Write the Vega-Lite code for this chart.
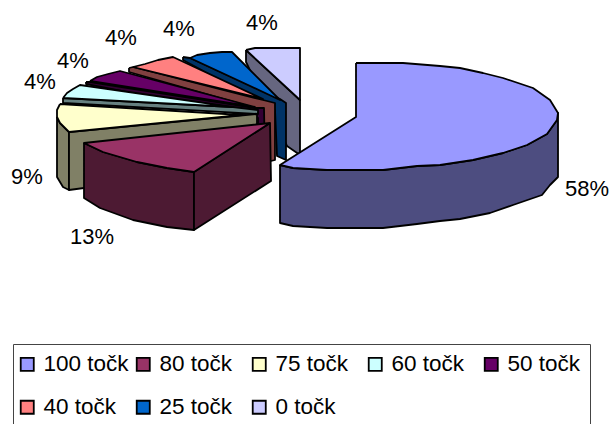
{
  "$schema": "https://vega.github.io/schema/vega-lite/v6.json",
  "width": 610, "height": 424, "padding": 0, "autosize": {"type": "none"},
  "background": "white",
  "config": {"view": {"stroke": null}, "font": "Liberation Sans"},
  "datasets": {
    "outline": [
      {"face":"0 točk side","p":"0s","x":246,"y":50},{"face":"0 točk side","p":"0s","x":300,"y":100},{"face":"0 točk side","p":"0s","x":300,"y":155},{"face":"0 točk side","p":"0s","x":287,"y":146},{"face":"0 točk side","p":"0s","x":246,"y":62},{"face":"0 točk side","p":"0s","x":246,"y":50},
      {"face":"0 točk","p":"0t","x":246,"y":50},{"face":"0 točk","p":"0t","x":255,"y":48},{"face":"0 točk","p":"0t","x":300,"y":48},{"face":"0 točk","p":"0t","x":300,"y":100},{"face":"0 točk","p":"0t","x":246,"y":50},

      {"face":"25 točk side","p":"25s","x":183,"y":57},{"face":"25 točk side","p":"25s","x":190,"y":58},{"face":"25 točk side","p":"25s","x":280,"y":99},{"face":"25 točk side","p":"25s","x":286,"y":103},{"face":"25 točk side","p":"25s","x":286,"y":160},{"face":"25 točk side","p":"25s","x":277,"y":156},{"face":"25 točk side","p":"25s","x":275,"y":110},{"face":"25 točk side","p":"25s","x":183,"y":60},{"face":"25 točk side","p":"25s","x":183,"y":57},
      {"face":"25 točk","p":"25t","x":190,"y":58},{"face":"25 točk","p":"25t","x":197,"y":55},{"face":"25 točk","p":"25t","x":210,"y":53},{"face":"25 točk","p":"25t","x":222,"y":52},{"face":"25 točk","p":"25t","x":232,"y":52},{"face":"25 točk","p":"25t","x":280,"y":100},{"face":"25 točk","p":"25t","x":190,"y":58},

      {"face":"40 točk side","p":"40s","x":129,"y":68},{"face":"40 točk side","p":"40s","x":133,"y":67},{"face":"40 točk side","p":"40s","x":263,"y":100},{"face":"40 točk side","p":"40s","x":275,"y":103},{"face":"40 točk side","p":"40s","x":275,"y":160},{"face":"40 točk side","p":"40s","x":267,"y":162},{"face":"40 točk side","p":"40s","x":262,"y":110},{"face":"40 točk side","p":"40s","x":129,"y":72},{"face":"40 točk side","p":"40s","x":129,"y":68},
      {"face":"40 točk","p":"40t","x":133,"y":67},{"face":"40 točk","p":"40t","x":145,"y":64},{"face":"40 točk","p":"40t","x":158,"y":60},{"face":"40 točk","p":"40t","x":173,"y":57},{"face":"40 točk","p":"40t","x":263,"y":99},{"face":"40 točk","p":"40t","x":133,"y":67},

      {"face":"50 točk side","p":"50s","x":86,"y":82},{"face":"50 točk side","p":"50s","x":90,"y":82},{"face":"50 točk side","p":"50s","x":255,"y":108},{"face":"50 točk side","p":"50s","x":264,"y":108},{"face":"50 točk side","p":"50s","x":265,"y":160},{"face":"50 točk side","p":"50s","x":258,"y":160},{"face":"50 točk side","p":"50s","x":258,"y":118},{"face":"50 točk side","p":"50s","x":86,"y":84},{"face":"50 točk side","p":"50s","x":86,"y":82},
      {"face":"50 točk","p":"50t","x":90,"y":81},{"face":"50 točk","p":"50t","x":97,"y":77},{"face":"50 točk","p":"50t","x":108,"y":74},{"face":"50 točk","p":"50t","x":120,"y":71},{"face":"50 točk","p":"50t","x":255,"y":107},{"face":"50 točk","p":"50t","x":90,"y":81},

      {"face":"60 točk side","p":"60s","x":63,"y":98},{"face":"60 točk side","p":"60s","x":233,"y":107},{"face":"60 točk side","p":"60s","x":258,"y":110},{"face":"60 točk side","p":"60s","x":258,"y":114},{"face":"60 točk side","p":"60s","x":63,"y":103},{"face":"60 točk side","p":"60s","x":63,"y":98},
      {"face":"60 točk","p":"60t","x":63,"y":98},{"face":"60 točk","p":"60t","x":67,"y":93},{"face":"60 točk","p":"60t","x":73,"y":89},{"face":"60 točk","p":"60t","x":80,"y":85},{"face":"60 točk","p":"60t","x":233,"y":107},{"face":"60 točk","p":"60t","x":63,"y":98},

      {"face":"75 točk side","p":"75o","x":57,"y":117},{"face":"75 točk side","p":"75o","x":60,"y":123},{"face":"75 točk side","p":"75o","x":69,"y":132},{"face":"75 točk side","p":"75o","x":69,"y":190},{"face":"75 točk side","p":"75o","x":63,"y":187},{"face":"75 točk side","p":"75o","x":57,"y":177},{"face":"75 točk side","p":"75o","x":57,"y":117},
      {"face":"75 točk side","p":"75f","x":69,"y":132},{"face":"75 točk side","p":"75f","x":257,"y":114},{"face":"75 točk side","p":"75f","x":257,"y":165},{"face":"75 točk side","p":"75f","x":69,"y":190},{"face":"75 točk side","p":"75f","x":69,"y":132},
      {"face":"75 točk","p":"75t","x":60,"y":104},{"face":"75 točk","p":"75t","x":57,"y":110},{"face":"75 točk","p":"75t","x":57,"y":117},{"face":"75 točk","p":"75t","x":60,"y":123},{"face":"75 točk","p":"75t","x":69,"y":132},{"face":"75 točk","p":"75t","x":242,"y":115},{"face":"75 točk","p":"75t","x":60,"y":104},

      {"face":"80 točk side","p":"80o","x":84,"y":143},{"face":"80 točk side","p":"80o","x":84,"y":198},{"face":"80 točk side","p":"80o","x":100,"y":208},{"face":"80 točk side","p":"80o","x":133,"y":220},{"face":"80 točk side","p":"80o","x":167,"y":227},{"face":"80 točk side","p":"80o","x":194,"y":230},{"face":"80 točk side","p":"80o","x":194,"y":172},{"face":"80 točk side","p":"80o","x":167,"y":168},{"face":"80 točk side","p":"80o","x":137,"y":162},{"face":"80 točk side","p":"80o","x":103,"y":152},{"face":"80 točk side","p":"80o","x":84,"y":143},
      {"face":"80 točk side","p":"80f","x":194,"y":172},{"face":"80 točk side","p":"80f","x":194,"y":230},{"face":"80 točk side","p":"80f","x":271,"y":181},{"face":"80 točk side","p":"80f","x":270,"y":123},{"face":"80 točk side","p":"80f","x":194,"y":172},
      {"face":"80 točk","p":"80t","x":270,"y":123},{"face":"80 točk","p":"80t","x":84,"y":143},{"face":"80 točk","p":"80t","x":103,"y":152},{"face":"80 točk","p":"80t","x":137,"y":162},{"face":"80 točk","p":"80t","x":167,"y":168},{"face":"80 točk","p":"80t","x":194,"y":172},{"face":"80 točk","p":"80t","x":270,"y":123},

      {"face":"100 točk side","p":"100s","x":280,"y":165},{"face":"100 točk side","p":"100s","x":293,"y":168},{"face":"100 točk side","p":"100s","x":327,"y":170},{"face":"100 točk side","p":"100s","x":383,"y":170},{"face":"100 točk side","p":"100s","x":417,"y":166},{"face":"100 točk side","p":"100s","x":440,"y":165},{"face":"100 točk side","p":"100s","x":473,"y":160},{"face":"100 točk side","p":"100s","x":503,"y":153},{"face":"100 točk side","p":"100s","x":527,"y":145},{"face":"100 točk side","p":"100s","x":547,"y":134},{"face":"100 točk side","p":"100s","x":557,"y":120},{"face":"100 točk side","p":"100s","x":558,"y":113},{"face":"100 točk side","p":"100s","x":558,"y":177},{"face":"100 točk side","p":"100s","x":550,"y":185},{"face":"100 točk side","p":"100s","x":542,"y":195},{"face":"100 točk side","p":"100s","x":513,"y":205},{"face":"100 točk side","p":"100s","x":490,"y":213},{"face":"100 točk side","p":"100s","x":460,"y":219},{"face":"100 točk side","p":"100s","x":440,"y":221},{"face":"100 točk side","p":"100s","x":417,"y":224},{"face":"100 točk side","p":"100s","x":383,"y":228},{"face":"100 točk side","p":"100s","x":327,"y":228},{"face":"100 točk side","p":"100s","x":293,"y":226},{"face":"100 točk side","p":"100s","x":280,"y":223},{"face":"100 točk side","p":"100s","x":280,"y":165},
      {"face":"100 točk","p":"100t","x":356,"y":63},{"face":"100 točk","p":"100t","x":356,"y":117},{"face":"100 točk","p":"100t","x":280,"y":165},{"face":"100 točk","p":"100t","x":293,"y":168},{"face":"100 točk","p":"100t","x":327,"y":170},{"face":"100 točk","p":"100t","x":383,"y":170},{"face":"100 točk","p":"100t","x":417,"y":166},{"face":"100 točk","p":"100t","x":440,"y":165},{"face":"100 točk","p":"100t","x":473,"y":160},{"face":"100 točk","p":"100t","x":503,"y":153},{"face":"100 točk","p":"100t","x":527,"y":145},{"face":"100 točk","p":"100t","x":547,"y":134},{"face":"100 točk","p":"100t","x":557,"y":120},{"face":"100 točk","p":"100t","x":558,"y":113},{"face":"100 točk","p":"100t","x":550,"y":100},{"face":"100 točk","p":"100t","x":533,"y":88},{"face":"100 točk","p":"100t","x":503,"y":78},{"face":"100 točk","p":"100t","x":483,"y":73},{"face":"100 točk","p":"100t","x":460,"y":68},{"face":"100 točk","p":"100t","x":440,"y":66},{"face":"100 točk","p":"100t","x":403,"y":63},{"face":"100 točk","p":"100t","x":356,"y":63}
    ],
    "shares": [
      {"slice":"100 točk","share":0.58,"x":587,"y":189},
      {"slice":"80 točk","share":0.13,"x":92,"y":237},
      {"slice":"75 točk","share":0.09,"x":27,"y":177},
      {"slice":"60 točk","share":0.04,"x":40,"y":82},
      {"slice":"50 točk","share":0.04,"x":73,"y":61},
      {"slice":"40 točk","share":0.04,"x":121,"y":38},
      {"slice":"25 točk","share":0.04,"x":179,"y":29},
      {"slice":"0 točk","share":0.04,"x":262,"y":23}
    ]
  },
  "layer": [
    {
      "data": {"name": "outline"},
      "transform": [{"window": [{"op": "row_number", "as": "i"}]}],
      "mark": {"type": "line", "stroke": "black", "strokeWidth": 1.8, "strokeJoin": "round", "clip": false},
      "encoding": {
        "x": {"field": "x", "type": "quantitative", "scale": {"domain": [0, 610], "nice": false, "zero": false}, "axis": null},
        "y": {"field": "y", "type": "quantitative", "scale": {"domain": [424, 0], "nice": false, "zero": false}, "axis": null},
        "order": {"field": "i", "type": "quantitative"},
        "detail": {"field": "p", "type": "nominal"},
        "fill": {
          "field": "face", "type": "nominal",
          "scale": {
            "domain": ["100 točk","80 točk","75 točk","60 točk","50 točk","40 točk","25 točk","0 točk","100 točk side","80 točk side","75 točk side","60 točk side","50 točk side","40 točk side","25 točk side","0 točk side"],
            "range": ["#9999FF","#993366","#FFFFCC","#CCFFFF","#660066","#FF8080","#0066CC","#CCCCFF","#4D4D80","#4D1A33","#808066","#668080","#330033","#804040","#003366","#666680"]
          },
          "legend": {
            "values": ["100 točk","80 točk","75 točk","60 točk","50 točk","40 točk","25 točk","0 točk"],
            "orient": "none", "direction": "horizontal", "legendX": 13, "legendY": 344, "columns": 5, "title": null,
            "symbolType": "square", "symbolSize": 170, "symbolStrokeColor": "black", "symbolStrokeWidth": 1.8, "symbolOffset": -6,
            "labelFont": "Liberation Sans", "labelFontSize": 22.5, "labelColor": "black", "labelOffset": 5,
            "strokeColor": "#444444", "fillColor": "white", "padding": 9, "columnPadding": 4, "rowPadding": 20, "gridAlign": "all", "labelLimit": 200
          }
        }
      }
    },
    {
      "data": {"name": "shares"},
      "mark": {"type": "text", "font": "Liberation Sans", "fontSize": 22, "color": "black", "align": "center", "baseline": "middle"},
      "encoding": {
        "x": {"field": "x", "type": "quantitative", "scale": {"domain": [0, 610], "nice": false, "zero": false}, "axis": null},
        "y": {"field": "y", "type": "quantitative", "scale": {"domain": [424, 0], "nice": false, "zero": false}, "axis": null},
        "text": {"field": "share", "type": "quantitative", "format": ".0%"}
      }
    }
  ]
}
